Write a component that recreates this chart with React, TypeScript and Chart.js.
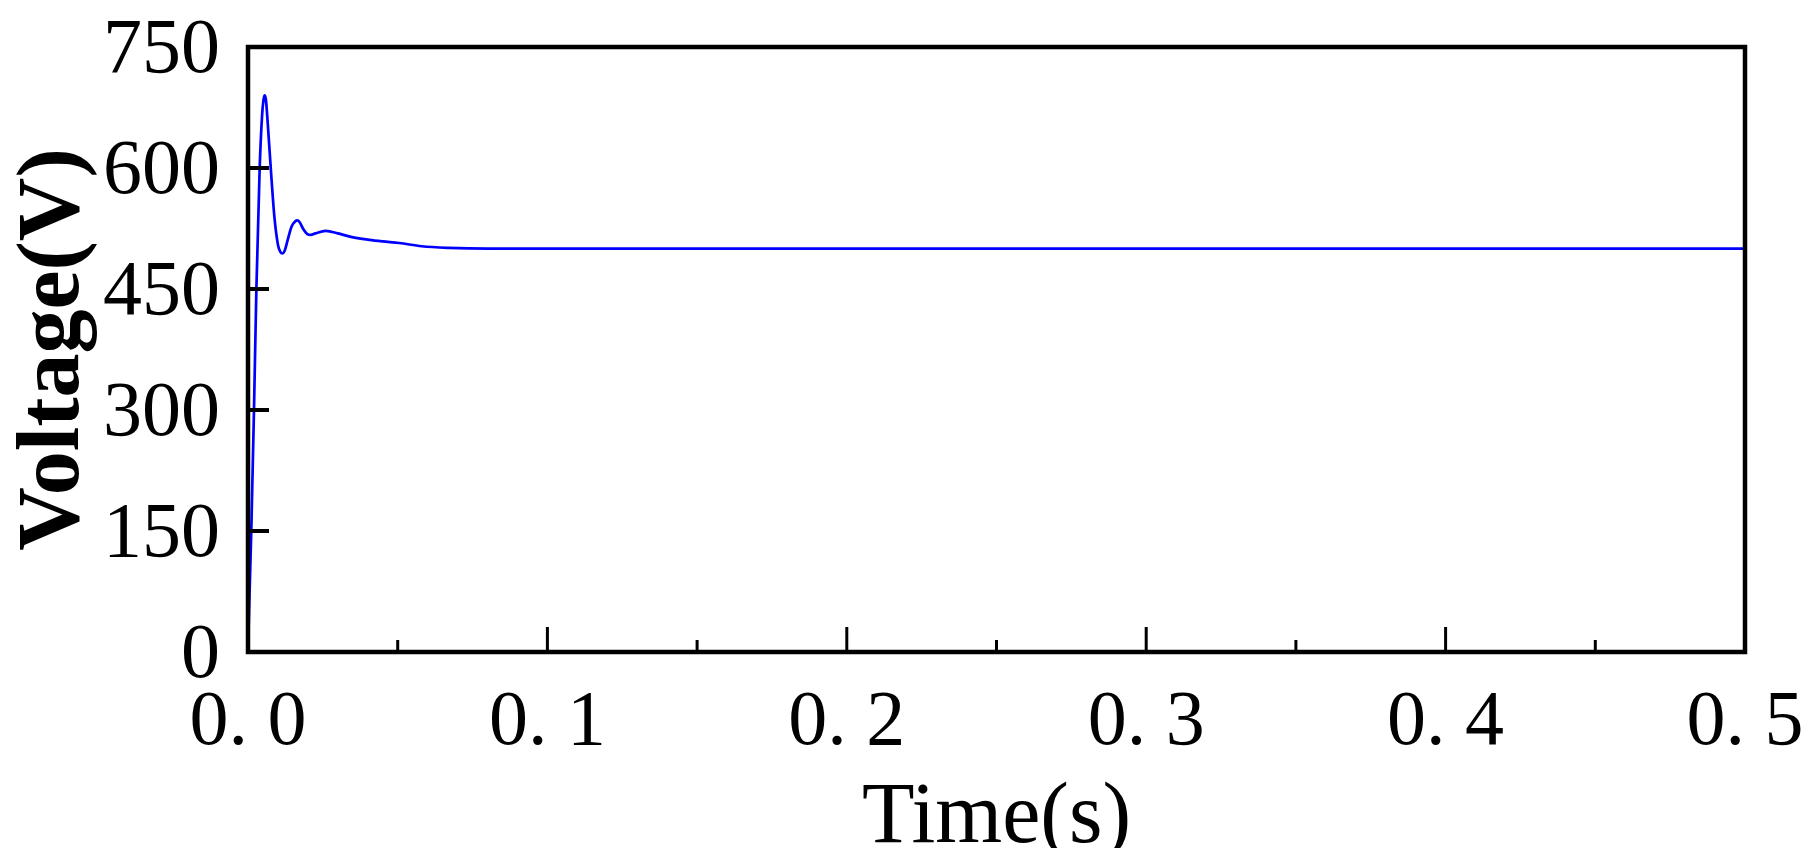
import React, { useEffect, useRef } from "react";
import { Chart, registerables } from "chart.js";

Chart.register(...registerables);

// ---- data ----
const timeSeconds = [
  0, 0.0005, 0.0011, 0.002, 0.0028, 0.0039, 0.0047, 0.0052, 0.0056, 0.006,
  0.0066, 0.0076, 0.0088, 0.01, 0.0108, 0.0115, 0.0122, 0.0132, 0.0145,
  0.0158, 0.0165, 0.0172, 0.0185, 0.0198, 0.021, 0.0225, 0.026, 0.03, 0.034,
  0.0405, 0.045, 0.0505, 0.058, 0.067, 0.08, 0.1, 0.15, 0.2, 0.25, 0.3, 0.35,
  0.4, 0.45, 0.5,
];
const voltageValues = [
  0, 70, 150, 300, 450, 600, 665, 685, 690, 684, 655, 600, 540, 505, 496, 494,
  497, 510, 527, 534, 535, 533, 524, 518, 517, 519, 522, 519, 515, 511, 509,
  507, 503, 501, 500, 500, 500, 500, 500, 500, 500, 500, 500, 500,
];
const xTickLabels = ["0. 0", "0. 1", "0. 2", "0. 3", "0. 4", "0. 5"];
const yTickStep = 150;
const xTickStep = 0.05;
const xTitle = "Time(s)";
const yTitle = "Voltage(V)";

const SERIF = '"Liberation Serif", "Times New Roman", serif';

const framePlugin = {
  id: "frameAndTicks",
  afterDatasetsDraw(chart: any) {
    const { ctx, chartArea } = chart;
    const { left, right, top, bottom } = chartArea;
    const xs = chart.scales.x;
    const ys = chart.scales.y;
    ctx.save();
    ctx.strokeStyle = "#000";
    ctx.lineCap = "butt";
    // y ticks (inward)
    ctx.lineWidth = 4;
    ys.ticks.forEach((t: any) => {
      const py = ys.getPixelForValue(t.value);
      ctx.beginPath();
      ctx.moveTo(left, py);
      ctx.lineTo(left + 21, py);
      ctx.stroke();
    });
    // x ticks (inward), major at labelled values
    ctx.lineWidth = 3;
    xs.ticks.forEach((t: any) => {
      const px = xs.getPixelForValue(t.value);
      const major = Math.abs(t.value * 10 - Math.round(t.value * 10)) < 1e-6;
      ctx.beginPath();
      ctx.moveTo(px, bottom);
      ctx.lineTo(px, bottom - (major ? 25 : 12));
      ctx.stroke();
    });
    // frame
    ctx.lineWidth = 4.5;
    ctx.strokeRect(left, top, right - left, bottom - top);
    ctx.restore();
  },
};

export default function App() {
  const canvasRef = useRef<HTMLCanvasElement | null>(null);

  useEffect(() => {
    if (!canvasRef.current) return;
    const points = timeSeconds.map((t, i) => ({ x: t, y: voltageValues[i] }));
    const chart = new Chart(canvasRef.current, {
      type: "line",
      data: {
        datasets: [
          {
            data: points,
            borderColor: "#0000ff",
            borderWidth: 2.7,
            pointRadius: 0,
            cubicInterpolationMode: "monotone",
            fill: false,
          },
        ],
      },
      options: {
        animation: false,
        responsive: true,
        maintainAspectRatio: false,
        layout: { padding: { top: 47, right: 73, bottom: 0, left: 0 } },
        plugins: {
          legend: { display: false },
          tooltip: { enabled: false },
        },
        scales: {
          x: {
            type: "linear",
            min: 0,
            max: 0.5,
            grid: { display: false, drawTicks: false },
            border: { display: false },
            ticks: {
              stepSize: xTickStep,
              autoSkip: false,
              maxRotation: 0,
              minRotation: 0,
              padding: 25,
              color: "#000",
              font: { family: SERIF, size: 78 },
              callback: (v: any) => {
                const n = Number(v) * 10;
                const i = Math.round(n);
                return Math.abs(n - i) < 1e-6 ? xTickLabels[i] : "";
              },
            },
            title: {
              display: true,
              text: xTitle,
              color: "#000",
              font: { family: SERIF, size: 86 },
              padding: { top: 0, bottom: -23 },
            },
            afterFit: (scale: any) => {
              scale.height = 196;
              scale.paddingLeft = 0;
              scale.paddingRight = 0;
            },
          },
          y: {
            min: 0,
            max: 750,
            grid: { display: false, drawTicks: false },
            border: { display: false },
            ticks: {
              stepSize: yTickStep,
              padding: 28,
              labelOffset: 5,
              color: "#000",
              font: { family: SERIF, size: 78 },
            },
            title: {
              display: true,
              text: yTitle,
              color: "#000",
              font: { family: SERIF, size: 88, weight: "bold" },
              padding: { top: 2, bottom: 0 },
            },
            afterFit: (scale: any) => {
              scale.width = 248;
              scale.paddingTop = 0;
              scale.paddingBottom = 0;
            },
          },
        },
      },
      plugins: [framePlugin],
    });
    return () => chart.destroy();
  }, []);

  return (
    <div
      style={{
        position: "absolute",
        left: 0,
        top: 0,
        width: 1818,
        height: 848,
        background: "#fff",
      }}
    >
      <canvas ref={canvasRef} />
    </div>
  );
}
